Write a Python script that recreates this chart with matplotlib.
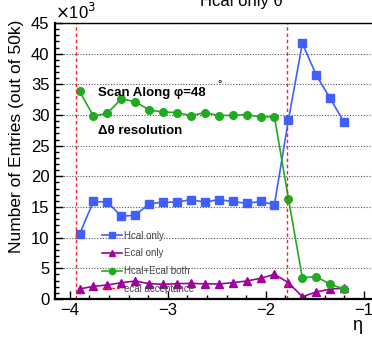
import matplotlib
matplotlib.use("Agg")
import matplotlib.pyplot as plt
from matplotlib.ticker import MultipleLocator
from matplotlib.lines import Line2D

plt.rcParams['font.family'] = ['Liberation Sans', 'DejaVu Sans']

# eta bins of the theta scan
eta = [-3.9, -3.758, -3.616, -3.474, -3.332, -3.189, -3.047, -2.905, -2.763, -2.621,
       -2.479, -2.337, -2.195, -2.053, -1.911, -1.768, -1.626, -1.484, -1.342, -1.2]

# entries, in units of 10^3
hcal_only = [10.55, 15.9, 15.8, 13.5, 13.65, 15.5, 15.8, 15.8, 16.2, 15.8,
             16.2, 15.9, 15.6, 15.9, 15.4, 29.2, 41.7, 36.5, 32.7, 28.8]
ecal_only = [1.63, 2.07, 2.28, 2.66, 2.93, 2.5, 2.39, 2.5, 2.55, 2.47,
             2.45, 2.66, 2.93, 3.37, 4.02, 2.66, 0.38, 1.14, 1.63, 1.75]
hcal_ecal_both = [33.9, 29.8, 30.3, 32.6, 32.2, 30.8, 30.5, 30.4, 29.9, 30.4,
                  29.9, 29.95, 30.05, 29.7, 29.7, 16.35, 3.48, 3.64, 2.39, 1.63]

ecal_acceptance = [-3.94, -1.78]

c_blue = '#3f60ff'
c_mag = '#a000a0'
c_green = '#20aa20'

fig = plt.figure(figsize=(3.72, 3.41), dpi=100)
ax = fig.add_axes([55/372, 42/341, 318.5/372, 276/341])

ax.plot(eta, hcal_only, '-s', color=c_blue, ms=6, lw=1.2)
ax.plot(eta, ecal_only, '-^', color=c_mag, ms=5.5, lw=1.2)
ax.plot(eta, hcal_ecal_both, '-o', color=c_green, ms=5.5, lw=1.2)
for xa in ecal_acceptance:
    ax.axvline(xa, color='#ff2020', ls=(0, (2.5, 2)), lw=1.0)

ax.set_xlim(-4.15, -0.9)
ax.set_ylim(0, 45)
ax.xaxis.set_major_locator(MultipleLocator(1))
ax.xaxis.set_minor_locator(MultipleLocator(0.2))
ax.yaxis.set_major_locator(MultipleLocator(5))
ax.yaxis.set_minor_locator(MultipleLocator(1))
ax.tick_params(which='both', direction='in', labelsize=12, width=1)
ax.tick_params(which='major', length=6, pad=4)
ax.tick_params(which='minor', length=3)
ax.tick_params(axis='x', pad=3)
ax.grid(axis='y', which='major', ls=(0, (1, 1.5)), color='#555555', lw=0.8)
for s in ['left', 'bottom']:
    ax.spines[s].set_linewidth(1.6)
ax.spines['top'].set_linewidth(1.0)

ax.text(0.0, 1.005, r'$\times$10$^3$', transform=ax.transAxes, fontsize=12,
        ha='left', va='bottom')
fig.text(241/372, 1 - 6/341, 'Hcal only θ', fontsize=12, ha='center', va='baseline')
fig.text(17/372, 1 - 20/341, 'Number of Entries (out of 50k)', rotation=90,
         fontsize=12.5, ha='center', va='top')
fig.text(357/372, 1 - 325/341, 'η', fontsize=13, ha='center', va='center')

ax.text(-3.714, 33.1, 'Scan Along φ=48', fontsize=9.5, fontweight='bold',
        ha='left', va='baseline')
ax.text(-2.49, 34.6, '°', fontsize=8, ha='left', va='baseline')
ax.text(-3.714, 26.9, 'Δθ resolution', fontsize=9.5, fontweight='bold',
        ha='left', va='baseline')

handles = [
    Line2D([], [], color=c_blue, marker='s', ms=4.5, lw=1.2),
    Line2D([], [], color=c_mag, marker='^', ms=4.5, lw=1.2),
    Line2D([], [], color=c_green, marker='o', ms=4.5, lw=1.2),
    Line2D([], [], color='#ff2020', ls=(0, (2, 1.5)), lw=1.0),
]
labels = ['Hcal only', 'Ecal only', 'Hcal+Ecal both', 'ecal acceptance']
leg = ax.legend(handles, labels, loc='upper left', bbox_to_anchor=(0.148, 0.248),
                frameon=False, fontsize=7, handlelength=2.0, handletextpad=0.3,
                labelspacing=0.8, borderpad=0, borderaxespad=0)
for t in leg.get_texts():
    t.set_color('#444444')

fig.savefig('out.png', dpi=100)
